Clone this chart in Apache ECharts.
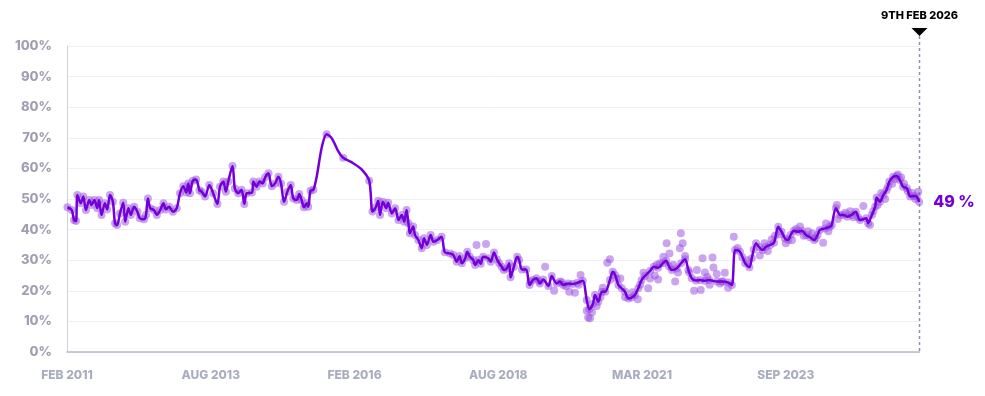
<!DOCTYPE html>
<html><head><meta charset="utf-8">
<script src="https://cdn.jsdelivr.net/npm/echarts@6/dist/echarts.min.js"></script>
<style>html,body{margin:0;padding:0;background:#fff}#c{width:985px;height:396px}</style>
</head><body><div id="c"></div>
<script>
// x = months since 1 Feb 2011, y = percent
const xTickLabels = ['FEB 2011','AUG 2013','FEB 2016','AUG 2018','MAR 2021','SEP 2023'];
const endMonth = 180.27; // 9 Feb 2026
const endDateLabel = '9TH FEB 2026';

// observed polls that sit on the trend line
const onLinePoints = [
[0.1,47.3],[1.0,46.4],[1.5,43.1],[1.9,42.8],[2.2,51.3],[2.9,48.6],[3.45,50.8],[4.0,46.4],[4.7,49.7],[5.2,48.0],[5.8,49.7],[6.4,47.0],[6.8,49.7],[7.3,44.8],[8.0,48.6],[8.5,46.6],[9.1,51.3],[9.7,49.1],[10.15,42.1],[10.6,41.5],[11.2,45.3],[11.9,48.8],[12.3,42.6],[13.0,47.0],[13.5,44.8],[14.2,47.5],[14.9,45.8],[15.4,43.7],[16.3,43.4],[16.7,44.8],[17.1,50.2],[17.6,47.0],[18.4,46.4],[19.0,44.8],[19.7,46.4],[20.4,48.6],[20.9,46.6],[21.6,47.5],[22.4,45.8],[23.2,47.0],[23.9,51.9],[24.6,54.2],[25.2,52.1],[25.65,55.1],[26.0,51.9],[26.6,56.0],[27.3,56.4],[28.0,52.9],[28.5,52.4],[29.2,50.8],[30.1,54.6],[30.9,51.9],[31.8,48.4],[32.35,54.0],[33.05,55.7],[33.6,52.4],[34.1,55.7],[35.0,60.8],[35.5,53.4],[36.2,51.9],[36.9,53.0],[37.5,48.4],[38.0,51.9],[39.1,52.1],[39.4,55.7],[40.1,54.0],[40.7,55.7],[41.4,55.1],[41.9,57.1],[42.6,58.4],[43.3,54.2],[44.0,55.1],[44.7,57.3],[45.25,55.1],[45.9,49.1],[46.6,52.4],[47.3,54.6],[47.85,50.2],[48.6,49.7],[49.1,51.6],[49.6,49.7],[50.1,47.3],[50.7,48.6],[51.0,47.5],[51.5,52.7],[52.1,53.0],
[54.9,71.2],[58.4,63.5],[63.9,56.0],
[64.6,45.9],[65.3,47.3],[65.8,49.4],[66.2,44.8],[66.8,49.1],[67.5,47.0],[67.9,48.8],[68.7,45.3],[69.4,47.0],[70.1,43.1],[70.8,44.8],[71.3,42.6],[71.8,46.4],[72.2,42.1],[72.5,38.8],[73.2,41.0],[73.6,38.2],[74.3,36.6],[75.0,33.9],[75.5,37.2],[76.1,35.0],[76.9,38.2],[77.5,36.0],[78.3,36.6],[79.2,37.7],[79.9,32.6],[81.0,32.2],[81.7,31.7],[82.4,29.5],[83.0,31.4],[83.5,29.0],[84.2,30.6],[84.65,32.8],[85.2,31.1],[85.9,30.1],[86.3,28.4],[87.0,30.1],[87.5,28.8],[88.0,31.1],[89.1,30.6],[89.6,29.5],[90.3,32.5],[90.9,30.3],[91.4,29.0],[91.9,27.9],[92.4,26.8],[93.0,27.3],[93.5,29.0],[93.8,24.4],[94.5,27.9],[95.2,31.1],[95.6,30.1],[96.2,27.0],[97.1,27.0],[97.8,21.9],[98.5,23.5],[99.3,24.1],[100.0,22.4],[100.7,23.7],[101.8,21.6],[102.5,24.8],[103.55,22.4],[104.25,23.0],[104.95,21.9],[106.0,22.4],[106.9,22.2],[107.9,22.6],[109.05,23.3],[109.9,17.0],[110.45,14.0],[111.2,15.7],[111.65,18.6],[112.35,16.4],[113.1,19.7],[113.8,19.7],[114.8,23.5],[115.4,26.2],[115.9,25.2],[116.6,21.9],[117.3,20.8],[118.0,19.7],[118.7,17.5],[119.4,17.8],[120.1,18.6],[120.8,20.8],[121.5,23.5],[122.2,24.8],[123.3,26.5],[124.1,27.9],[125.0,27.5],[126.0,29.0],[126.7,29.8],[127.3,28.0],[127.9,26.8],[128.9,27.3],[129.85,29.0],[130.7,30.3],[131.4,26.8],[132.1,24.1],[133.0,23.4],[133.9,23.5],[134.9,23.3],[135.8,23.5],[137.4,23.0],[138.45,23.0],[139.8,22.7],[140.6,21.9],[141.3,33.3],[142.3,32.8],[143.4,29.0],[144.3,27.7],[144.8,30.6],[145.7,35.5],[146.4,34.2],[147.1,33.3],[147.8,34.4],[148.7,35.0],[149.5,35.7],[150.4,40.9],[151.1,39.3],[151.8,37.2],[152.5,36.6],[153.0,38.2],[153.7,39.6],[154.6,39.3],[155.4,39.6],[156.3,38.2],[157.1,37.5],[158.0,36.6],[158.7,38.2],[159.2,39.9],[160.3,40.4],[161.3,40.9],[161.7,41.5],[162.6,47.0],[163.5,44.8],[164.2,44.8],[165.0,44.2],[165.9,44.8],[166.8,45.8],[167.7,43.1],[169.0,43.7],[169.4,42.1],[170.2,44.8],[170.9,47.5],[171.2,50.5],[171.9,49.1],[172.6,51.3],[173.3,52.9],[173.9,55.7],[174.7,57.3],[175.45,57.5],[176.1,56.2],[176.8,54.0],[177.6,53.5],[178.3,50.8],[179.0,51.0],[179.7,50.8],[180.2,49.0]
];

// trend line points where there were no polls (2015 gap)
const lineOnlyPoints = [[52.8,57.3],[53.9,67.1],[56.0,69.8],[57.4,65.5],[60.5,61.7],[62.3,59.7]];

// polls scattered off the trend line
const offLinePoints = [
[86.6,35.0],[88.6,35.3],[98.0,23.0],[99.8,23.2],[101.1,27.9],[103.0,20.0],[104.6,22.8],[105.5,21.5],[106.2,19.7],[107.4,19.4],[108.2,22.0],[108.6,25.2],[109.9,13.5],[110.2,11.3],[110.6,11.0],
[111.0,13.0],[112.0,15.0],[112.8,18.0],[113.3,21.0],[114.25,29.2],[114.8,30.3],[116.2,24.0],[117.0,24.0],[118.0,18.0],[119.6,19.5],[120.7,17.2],[121.2,22.0],[121.9,25.9],[122.9,20.8],
[123.3,24.0],[124.3,25.0],[124.7,28.5],[125.0,23.7],[125.4,29.0],[126.1,31.1],[126.8,35.5],[127.4,32.2],[128.2,28.5],[128.6,23.0],[129.2,26.0],[129.6,33.9],[129.8,38.8],
[130.2,35.5],[130.7,31.4],[131.6,26.0],[132.6,20.0],[133.2,26.8],[134.0,20.3],[134.4,30.6],[134.9,26.0],[135.4,24.5],[135.9,22.0],[136.5,30.9],
[136.7,27.6],[137.4,25.5],[138.1,22.4],[138.7,23.0],[139.1,25.9],[139.8,21.0],[141.0,37.7],
[141.8,34.0],[142.8,31.0],[143.9,30.0],[145.2,33.5],[146.5,31.5],[147.5,35.5],[148.2,33.0],[149.0,36.8],[149.7,38.0],[150.8,38.5],[152.0,35.5],[153.3,36.5],[154.2,40.2],[155.0,41.0],[155.8,38.0],[156.7,39.5],[157.6,38.8],[158.3,37.2],[159.9,35.7],[160.5,42.0],[161.0,39.5],[162.8,48.0],
[163.0,43.5],[164.6,45.5],[165.6,46.0],[166.3,44.0],[167.3,44.0],[168.4,47.7],[169.8,41.5],[170.5,46.0],[171.4,48.0],[172.2,52.0],[173.0,50.0],[173.6,54.0],[174.5,55.0],[175.1,56.5],[175.7,58.0],[176.4,57.0],[177.0,55.0],[177.8,52.5],[178.7,52.0],[179.4,50.0],[180.0,52.4]
];

const lineData = onLinePoints.concat(lineOnlyPoints).sort((a,b)=>a[0]-b[0]);
const dotData = onLinePoints.concat(offLinePoints);
const lastValue = lineData[lineData.length-1][1];

const chart = echarts.init(document.getElementById('c'), null, {renderer:'canvas'});
const FONT = 'Inter, "Noto Sans", sans-serif';
chart.setOption({
  animation: false,
  grid: {left: 67, right: 65.5, top: 46, bottom: 44, containLabel: false},
  xAxis: {
    type: 'value', min: 0, max: endMonth, interval: 30.4,
    axisLine: {show: true, lineStyle: {color: '#b6b9ca', width: 1.5}},
    axisTick: {show: false},
    splitLine: {show: false},
    axisLabel: {
      margin: 17, color: '#a9adc0', fontFamily: FONT, fontWeight: 800, fontSize: 12,
      formatter: v => { const i = Math.round(v/30.4); return xTickLabels[i] || ''; }
    }
  },
  yAxis: {
    type: 'value', min: 0, max: 100, interval: 10,
    axisLine: {show: true, lineStyle: {color: '#d0cfdc', width: 1}},
    axisTick: {show: false},
    splitLine: {show: true, lineStyle: {color: '#f1f0f5', width: 1}},
    axisLabel: {margin: 15, color: '#a39fb3', fontFamily: FONT, fontWeight: 800, fontSize: 13, formatter: '{value}%'}
  },
  series: [
    {
      type: 'scatter', data: dotData, symbolSize: 8, z: 2,
      itemStyle: {color: 'rgba(150, 70, 225, 0.62)'}
    },
    {
      type: 'line', data: lineData, showSymbol: false, smooth: 0.3, z: 3,
      lineStyle: {color: '#7300d8', width: 2.5},
      endLabel: {
        show: true, distance: 14, color: '#7300d8', fontFamily: FONT, fontWeight: 800, fontSize: 16,
        formatter: () => Math.round(lastValue) + ' %'
      }
    }
  ]
});

const pBottom = chart.convertToPixel({gridIndex: 0}, [endMonth, 0]);
const pTop = chart.convertToPixel({gridIndex: 0}, [endMonth, 100]);
const xEnd = pBottom[0];
const triBottom = pTop[1] - 10;
chart.setOption({
  graphic: [
    {type: 'line', shape: {x1: xEnd, y1: triBottom, x2: xEnd, y2: pBottom[1]},
     style: {stroke: '#8f94a6', lineWidth: 1.5, lineDash: [3, 3]}, z: 1},
    {type: 'polygon', shape: {points: [[xEnd-8, triBottom-8], [xEnd+8, triBottom-8], [xEnd, triBottom]]},
     style: {fill: '#000'}},
    {type: 'text', x: xEnd, y: triBottom - 20,
     style: {text: endDateLabel, fill: '#000', font: '800 11px Inter, sans-serif', align: 'center', verticalAlign: 'middle'}}
  ]
});
</script></body></html>
